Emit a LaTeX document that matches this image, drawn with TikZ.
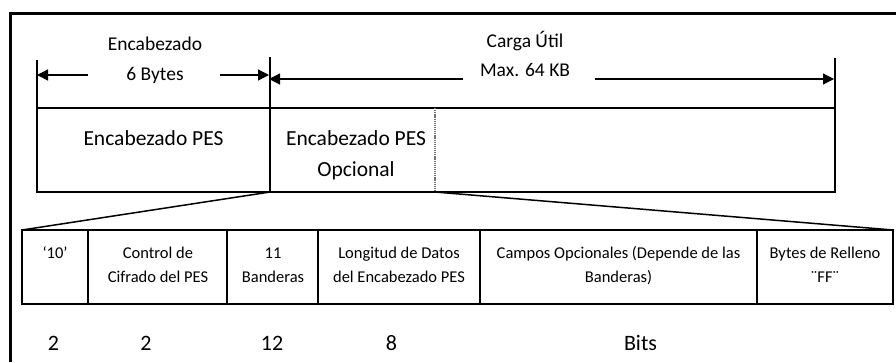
\documentclass[tikz,border=0pt]{standalone}
\usepackage{fontspec}
\setmainfont{Carlito}
\usetikzlibrary{arrows.meta}
\begin{document}
\begin{tikzpicture}[x=1pt,y=-1pt,
  cell/.style={draw, line width=1.2pt, inner sep=0pt, outer sep=0pt, anchor=north west},
  ghost/.style={inner sep=0pt, outer sep=0pt, anchor=north west},
  big/.style={font=\fontsize{21.5}{30}\selectfont, anchor=base, inner sep=0pt},
  lab/.style={font=\fontsize{19.5}{29}\selectfont, anchor=base, inner sep=0pt},
  small/.style={font=\fontsize{16.5}{24}\selectfont, anchor=base, inner sep=0pt},
  num/.style={font=\fontsize{22}{26}\selectfont, anchor=base, inner sep=0pt},
  dim/.style={line width=1.2pt, -{Triangle[length=11pt,width=11pt]}},
  tickline/.style={line width=1.2pt},
  fan/.style={line width=1.5pt}]
\useasboundingbox (0,0) rectangle (896,362);
% outer frame
\draw[line width=3pt] (10,362) -- (10,13) -- (896,13);
% top row
\node[cell, minimum width=233pt, minimum height=84pt] (pes) at (37,108) {};
\node[ghost, minimum width=165pt, minimum height=84pt] (opt) at (270,108) {};
\node[ghost, minimum width=400pt, minimum height=84pt] (pay) at (435,108) {};
\draw[line width=1.2pt] (opt.north west) -- (pay.north east) -- (pay.south east) -- (opt.south west);
\draw[line width=1.6pt, black!55, dash pattern=on 1.2pt off 0.9pt] (opt.north east) -- (opt.south east);
\node[big] (tpes) at (153.5,145) {Encabezado PES};
\node[big] (topt1) at (356,145) {Encabezado PES};
\node[big] (topt2) at (356,176) {Opcional};
% dimension lines
\coordinate (k1) at (37,60);
\coordinate (k2) at (270,57);
\coordinate (k3) at (835,58);
\draw[tickline] (k1) -- (pes.north west);
\draw[tickline] (k2) -- (pes.north east);
\draw[tickline] (k3) -- (pay.north east);
\node[lab] (l1) at (155,50) {Encabezado};
\node[lab] (l2) at (155,80) {6 Bytes};
\node[lab] (l3) at (525,47) {Carga Útil};
\node[lab] (l4) at (525,76) {Max. 64 KB};
\coordinate (a1) at (88,75);
\coordinate (a3) at (220,75);
\coordinate (a4) at (463,79);
\coordinate (a5) at (595,79);
\draw[dim] (a1) -- (a1 -| k1);
\draw[dim, shorten >=1pt] (a3) -- (a3 -| k2);
\draw[dim, shorten >=-1pt] (a4) -- (a4 -| k2);
\draw[dim, shorten >=1pt] (a5) -- (a5 -| k3);
% bottom table
\node[cell, minimum width=66pt, minimum height=74pt] (c1) at (22,230) {};
\node[cell, minimum width=139pt, minimum height=74pt] (c2) at (88,230) {};
\node[cell, minimum width=91pt, minimum height=74pt] (c3) at (227,230) {};
\node[cell, minimum width=162pt, minimum height=74pt] (c4) at (318,230) {};
\node[cell, minimum width=277pt, minimum height=74pt] (c5) at (480,230) {};
\node[cell, minimum width=136pt, minimum height=74pt] (c6) at (757,230) {};
\node[small] (s1) at (55,258) {‘10’};
\node[small] (s2a) at (158,258) {Control de};
\node[small] (s2b) at (158,282) {Cifrado del PES};
\node[small] (s3a) at (273,258) {11};
\node[small] (s3b) at (273,282) {Banderas};
\node[small] (s4a) at (399,258) {Longitud de Datos};
\node[small] (s4b) at (399,282) {del Encabezado PES};
\node[small] (s5a) at (618.5,258) {Campos Opcionales (Depende de las};
\node[small] (s5b) at (618.5,282) {Banderas)};
\node[small] (s6a) at (825,258) {Bytes de Relleno};
\node[small] (s6b) at (825,282) {¨FF¨};
% fan lines
\draw[fan] (pes.south east) -- (c1.north west);
\draw[fan] (opt.south east) -- (c6.north east);
% bit counts
\node[num] (n1) at (53.5,350) {2};
\node[num] (n2) at (146,350) {2};
\node[num] (n3) at (272,350) {12};
\node[num] (n4) at (391.5,350) {8};
\node[num] (n5) at (640.5,350) {Bits};
\end{tikzpicture}
\end{document}
